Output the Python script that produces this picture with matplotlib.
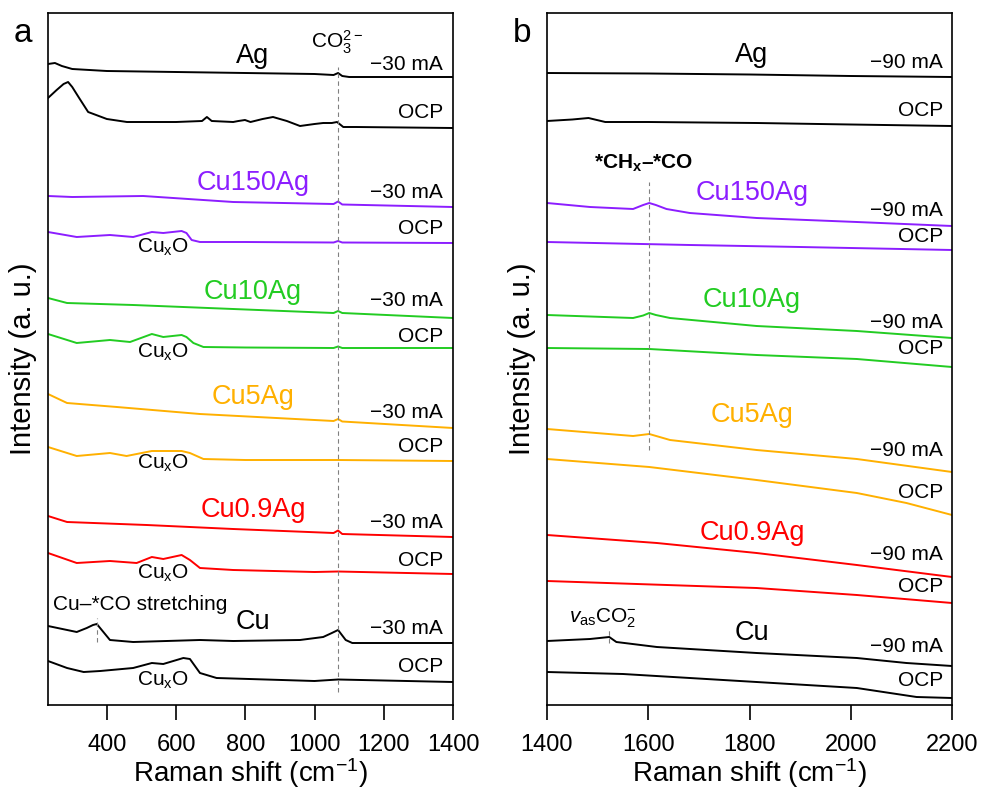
import matplotlib
matplotlib.use("Agg")
import matplotlib.pyplot as plt

plt.rcParams['font.family'] = ['Liberation Sans', 'DejaVu Sans']
plt.rcParams['mathtext.fontset'] = 'custom'
plt.rcParams['mathtext.rm'] = 'Liberation Sans'
plt.rcParams['mathtext.it'] = 'Liberation Sans:italic'
plt.rcParams['mathtext.bf'] = 'Liberation Sans:bold'

# colours of the samples
c_ag = 'black'
c_150 = '#8c1eff'
c_10 = '#22cc22'
c_5 = '#ffb000'
c_09 = '#ff0000'
c_cu = 'black'

# ---------------- panel a : 230 - 1400 cm-1 (intensity in a.u., stacked) ----------------
a_ag_cath_x = [230, 250, 270, 300, 350, 400, 600, 800, 1000, 1055, 1068, 1080, 1100, 1400]
a_ag_cath_y = [641, 642, 639, 636, 635, 634, 633, 632, 631, 630, 632, 629, 628, 628]
a_ag_ocp_x = [230, 255, 275, 288, 300, 320, 346, 400, 458, 600, 675, 689, 703, 765, 780, 799, 815, 850,
              880, 920, 958, 1000, 1025, 1050, 1065, 1083, 1120, 1400]
a_ag_ocp_y = [607, 615, 621, 623, 618, 607, 593, 586, 583, 583, 584, 588, 584, 583, 584, 585, 583, 586,
              588, 584, 579, 581, 582, 582, 583, 578, 578, 577]
a_150_cath_x = [230, 300, 505, 765, 1055, 1068, 1080, 1400]
a_150_cath_y = [509, 508, 509, 503, 501, 503.5, 500.5, 498]
a_150_ocp_x = [230, 313, 409, 476, 530, 563, 616, 630, 645, 669, 800, 1055, 1068, 1080, 1400]
a_150_ocp_y = [473, 468, 470, 468, 473, 472, 474, 472, 465, 463, 463, 462.5, 464, 462.5, 462]
a_10_cath_x = [230, 285, 476, 765, 1055, 1068, 1080, 1400]
a_10_cath_y = [407, 402, 400, 396, 392, 394, 392, 387]
a_10_ocp_x = [230, 313, 409, 467, 530, 563, 616, 630, 650, 679, 800, 1055, 1068, 1080, 1400]
a_10_ocp_y = [371, 362, 365, 363, 371, 368, 370, 368, 362, 358, 357.5, 357, 358.5, 357, 357]
a_5_cath_x = [230, 285, 429, 669, 1055, 1068, 1080, 1400]
a_5_cath_y = [311, 302, 298, 291, 284, 286, 283.5, 277]
a_5_ocp_x = [230, 313, 409, 457, 530, 616, 640, 679, 800, 1068, 1400]
a_5_ocp_y = [258, 249, 252, 249, 254, 254, 252, 246, 245, 245, 244]
a_09_cath_x = [230, 285, 515, 765, 1055, 1068, 1080, 1400]
a_09_cath_y = [189, 183, 180, 176, 172, 174.5, 171, 168]
a_09_ocp_x = [230, 313, 409, 486, 530, 563, 616, 640, 669, 765, 1000, 1068, 1400]
a_09_ocp_y = [152, 142, 144, 142, 148, 146, 150, 145, 137, 135, 133, 133.5, 131]
a_cu_cath_x = [230, 313, 342, 360, 371, 390, 409, 476, 669, 765, 958, 1025, 1050, 1068, 1090, 1109, 1400]
a_cu_cath_y = [79, 73, 77, 80, 81, 73, 65, 63, 65, 64, 65, 68, 72, 75, 65, 62, 62]
a_cu_ocp_x = [230, 285, 333, 381, 476, 530, 563, 621, 640, 669, 717, 1000, 1068, 1400]
a_cu_ocp_y = [44, 37, 33, 34, 37, 42, 41, 47, 46, 32, 27, 24, 25.5, 23]

# ---------------- panel b : 1400 - 2200 cm-1 ----------------
b_ag_cath_x = [1400, 1600, 1800, 2000, 2200]
b_ag_cath_y = [632, 631.5, 630.5, 629, 628]
b_ag_ocp_x = [1400, 1450, 1482, 1515, 1600, 1814, 2000, 2200]
b_ag_ocp_y = [584, 585.5, 587, 583, 583, 582, 580.5, 579]
b_150_cath_x = [1400, 1485, 1570, 1590, 1602, 1615, 1636, 1682, 1814, 2012, 2200]
b_150_cath_y = [502, 498, 496, 500, 502, 500, 496, 492, 487, 483, 479]
b_150_ocp_x = [1400, 1682, 1900, 2200]
b_150_ocp_y = [463, 460, 458, 455]
b_10_cath_x = [1400, 1570, 1590, 1602, 1615, 1643, 1814, 2012, 2200]
b_10_cath_y = [390, 387, 389.5, 392, 390, 387, 379, 374, 367]
b_10_ocp_x = [1400, 1602, 1814, 2012, 2200]
b_10_ocp_y = [357, 356, 350, 346, 338]
b_5_cath_x = [1400, 1570, 1602, 1643, 1814, 2012, 2200]
b_5_cath_y = [276, 269, 271, 265, 255, 246, 233]
b_5_ocp_x = [1400, 1602, 1814, 2012, 2110, 2200]
b_5_ocp_y = [246, 238, 225, 212, 202, 190]
b_09_cath_x = [1400, 1617, 1814, 2012, 2200]
b_09_cath_y = [170, 162, 152, 140, 128]
b_09_ocp_x = [1400, 1814, 2012, 2200]
b_09_ocp_y = [124, 117, 110, 102]
b_cu_cath_x = [1400, 1485, 1523, 1537, 1617, 1814, 2012, 2110, 2200]
b_cu_cath_y = [64, 66, 68, 63, 58, 52, 47, 42, 39]
b_cu_ocp_x = [1400, 1550, 1814, 2012, 2130, 2200]
b_cu_ocp_y = [33, 31, 23, 17, 8, 7]

names = ['Ag', 'Cu150Ag', 'Cu10Ag', 'Cu5Ag', 'Cu0.9Ag', 'Cu']
colors = [c_ag, c_150, c_10, c_5, c_09, c_cu]
a_curves = [(a_ag_cath_x, a_ag_cath_y, a_ag_ocp_x, a_ag_ocp_y),
            (a_150_cath_x, a_150_cath_y, a_150_ocp_x, a_150_ocp_y),
            (a_10_cath_x, a_10_cath_y, a_10_ocp_x, a_10_ocp_y),
            (a_5_cath_x, a_5_cath_y, a_5_ocp_x, a_5_ocp_y),
            (a_09_cath_x, a_09_cath_y, a_09_ocp_x, a_09_ocp_y),
            (a_cu_cath_x, a_cu_cath_y, a_cu_ocp_x, a_cu_ocp_y)]
b_curves = [(b_ag_cath_x, b_ag_cath_y, b_ag_ocp_x, b_ag_ocp_y),
            (b_150_cath_x, b_150_cath_y, b_150_ocp_x, b_150_ocp_y),
            (b_10_cath_x, b_10_cath_y, b_10_ocp_x, b_10_ocp_y),
            (b_5_cath_x, b_5_cath_y, b_5_ocp_x, b_5_ocp_y),
            (b_09_cath_x, b_09_cath_y, b_09_ocp_x, b_09_ocp_y),
            (b_cu_cath_x, b_cu_cath_y, b_cu_ocp_x, b_cu_ocp_y)]

# label heights
a_name_y = [649, 522, 413, 308, 195, 83]
a_cath_lab_y = [641, 513, 405, 293, 183, 77]
a_ocp_lab_y = [592, 477, 368, 259, 144, 38]
a_cuxo_y = [458, 353, 242, 132, 25]
b_name_y = [650, 512, 405, 290, 172, 72]
b_cath_lab_y = [643, 495, 383, 255, 150, 58]
b_ocp_lab_y = [595, 468, 356, 213, 118, 25]

fig = plt.figure(figsize=(9.81, 7.89), dpi=100)
ax_a = fig.add_axes([48 / 981, 84 / 789, 405 / 981, 692 / 789])
ax_b = fig.add_axes([547 / 981, 84 / 789, 405 / 981, 692 / 789])


def style(ax, xmin, xmax, ticks):
    ax.set_xlim(xmin, xmax)
    ax.set_ylim(0, 692)
    ax.set_xticks(ticks)
    ax.set_yticks([])
    ax.tick_params(axis='x', direction='out', length=11, width=1.2, labelsize=17, pad=10)
    for s in ax.spines.values():
        s.set_linewidth(1.2)
    ax.set_xlabel('Raman shift (cm$^{-1}$)', fontsize=20, labelpad=0)
    ax.set_ylabel('Intensity (a. u.)', fontsize=21, labelpad=8)


style(ax_a, 230, 1400, [400, 600, 800, 1000, 1200, 1400])
style(ax_b, 1400, 2200, [1400, 1600, 1800, 2000, 2200])

for (cx, cy, ox, oy), col in zip(a_curves, colors):
    ax_a.plot(cx, cy, color=col, lw=1.4)
    ax_a.plot(ox, oy, color=col, lw=1.4)
for (cx, cy, ox, oy), col in zip(b_curves, colors):
    ax_b.plot(cx, cy, color=col, lw=1.4)
    ax_b.plot(ox, oy, color=col, lw=1.4)

for name, col, ny, cy, oy in zip(names, colors, a_name_y, a_cath_lab_y, a_ocp_lab_y):
    ax_a.text(822, ny, name, color=col, fontsize=19.5, ha='center', va='center')
    ax_a.text(1371, cy, '\u221230 mA', fontsize=15, ha='right', va='center')
    ax_a.text(1371, oy, 'OCP', fontsize=15, ha='right', va='center')
for ty in a_cuxo_y:
    ax_a.text(562, ty, 'Cu$_\\mathrm{x}$O', fontsize=15, ha='center', va='center')

for name, col, ny, cy, oy in zip(names, colors, b_name_y, b_cath_lab_y, b_ocp_lab_y):
    ax_b.text(1805, ny, name, color=col, fontsize=19.5, ha='center', va='center')
    ax_b.text(2182, cy, '\u221290 mA', fontsize=15, ha='right', va='center')
    ax_b.text(2182, oy, 'OCP', fontsize=15, ha='right', va='center')

# marker lines and band assignments
ax_a.plot([1068, 1068], [13, 638], color='gray', lw=0.8, ls=(0, (4, 3)))
ax_a.plot([371, 371], [63, 87], color='gray', lw=0.8, ls=(0, (4, 3)))
ax_a.text(1065, 663, 'CO$_3^{2\u2212}$', fontsize=15, ha='center', va='center')
ax_a.text(496, 100, 'Cu\u2013*CO stretching', fontsize=15, ha='center', va='center')

ax_b.plot([1602, 1602], [255, 523], color='gray', lw=0.8, ls=(0, (4, 3)))
ax_b.plot([1523, 1523], [62, 77], color='gray', lw=0.8, ls=(0, (4, 3)))
ax_b.text(1590, 542, '*CH$_\\mathbf{x}$\u2013*CO', fontsize=15, fontweight='bold',
          ha='center', va='center')
ax_b.text(1511, 87, '$v_\\mathrm{as}$CO$_2^{\u2212}$', fontsize=15, ha='center', va='center')

fig.text(23 / 981, 1 - 33 / 789, 'a', fontsize=24, ha='center', va='center')
fig.text(522 / 981, 1 - 33 / 789, 'b', fontsize=24, ha='center', va='center')

fig.savefig('out.png', dpi=100)
